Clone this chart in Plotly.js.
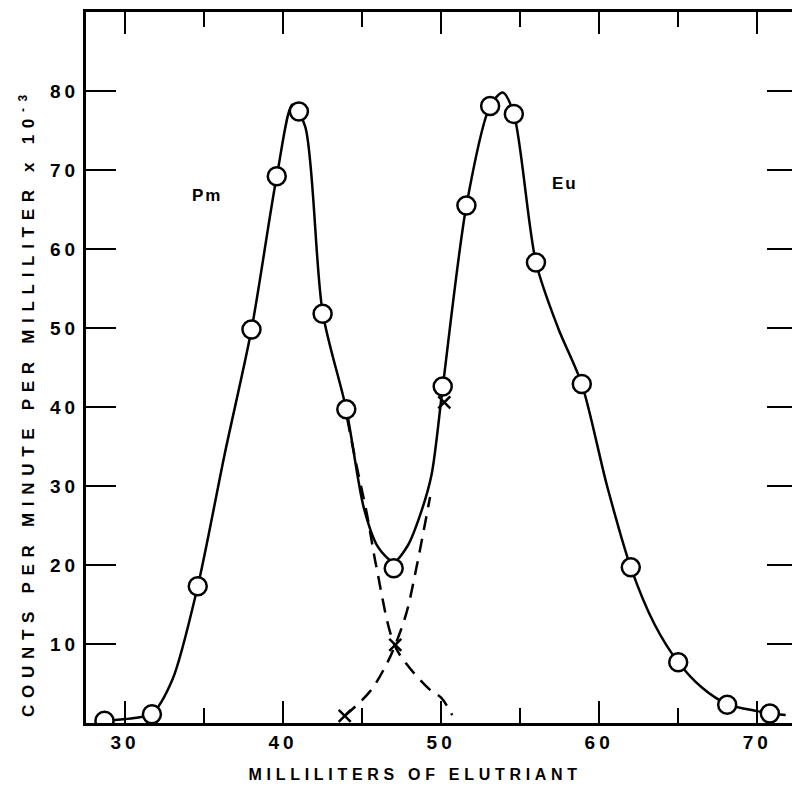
<!DOCTYPE html>
<html>
<head>
<meta charset="utf-8">
<script src="https://cdn.plot.ly/plotly-3.0.1.min.js"></script>
<style>
  body { margin: 0; padding: 0; background: #fff; }
  #chart { width: 792px; height: 787px; }
  .xtick text, .ytick text { letter-spacing: 4px; }
  .annotation-text { letter-spacing: 2px; }
</style>
</head>
<body>
<div id="chart"></div>
<script>
// Measured points (open circles)
const pointX = [28.7, 31.7, 34.6, 38.0, 39.6, 41.0, 42.5, 44.0, 47.0, 50.1, 51.6, 53.1, 54.6, 56.0, 58.9, 62.0, 65.0, 68.1, 70.8];
const pointY = [0.3, 1.1, 17.3, 49.8, 69.2, 77.4, 51.8, 39.7, 19.6, 42.6, 65.5, 78.1, 77.1, 58.3, 42.9, 19.7, 7.7, 2.3, 1.2];

// Smooth fitted curve (solid)
const curveX = [28.3, 30.0, 31.7, 33.0, 34.6, 36.3, 38.0, 39.6, 40.6, 41.4, 42.5, 44.0, 45.1, 46.0, 47.0, 47.9, 48.7, 49.4, 50.1, 51.6, 53.1, 53.9, 54.6, 56.0, 57.4, 58.9, 60.5, 62.0, 63.5, 65.0, 66.5, 68.1, 70.0, 70.8, 71.8];
const curveY = [0.2, 0.5, 1.2, 5.5, 17.3, 34.0, 49.8, 69.2, 78.3, 75.5, 52.0, 39.7, 27.3, 22.3, 20.4, 22.5, 26.5, 31.5, 42.5, 65.5, 78.1, 79.8, 77.1, 58.3, 50.0, 42.9, 30.0, 19.7, 12.5, 7.7, 4.5, 2.4, 1.5, 1.2, 1.0];

// Resolved components (dashed)
const pmTailX = [44.05, 44.67, 45.3, 45.9, 47.0, 47.8, 49.3, 50.0, 50.7];
const pmTailY = [38.6, 32.4, 26.5, 19.8, 10.1, 7.5, 4.2, 3.2, 1.0];
const euRiseX = [43.9, 45.5, 46.56, 47.1, 47.8, 48.45, 48.9, 49.3];
const euRiseY = [0.9, 4.0, 7.5, 9.9, 13.9, 19.8, 24.4, 28.6];

// Crosses (computed component values)
const crossX = [43.9, 47.1, 50.2];
const crossY = [0.9, 9.9, 40.6];

// Axis ticks
const xMajor = [30, 40, 50, 60, 70];
const xMinor = [35, 45, 55, 65];
const yTicks = [10, 20, 30, 40, 50, 60, 70, 80];

// Labels
const labelText = ["Pm", "Eu"];
const labelX = [35.2, 57.85];
const labelY = [66.8, 68.3];
const xTitle = 'MILLILITERS OF ELUTRIANT';
const yTitle = 'COUNTS PER MINUTE PER MILLILITER x 10<sup>-3</sup>';

const FONT = 'Arial, "Liberation Sans", sans-serif';

const traces = [
  { x: pmTailX, y: pmTailY, mode: 'lines', line: {color: '#000', width: 2.5, dash: '14px,9px', shape: 'spline'}, hoverinfo: 'skip' },
  { x: euRiseX, y: euRiseY, mode: 'lines', line: {color: '#000', width: 2.5, dash: '14px,9px', shape: 'spline'}, hoverinfo: 'skip' },
  { x: curveX, y: curveY, mode: 'lines', line: {color: '#000', width: 2.5, shape: 'spline', smoothing: 0.8}, hoverinfo: 'skip' },
  { x: pointX, y: pointY, mode: 'markers', marker: {symbol: 'circle', size: 18, color: '#fff', line: {color: '#000', width: 2.5}} },
  { x: crossX, y: crossY, yaxis: 'y2', mode: 'markers', marker: {symbol: 'x-thin-open', size: 12, color: '#000', line: {color: '#000', width: 2.5}} }
];

const annots = labelText.map((t, i) => ({
  x: labelX[i], y: labelY[i], xref: 'x', yref: 'y', text: t, showarrow: false,
  font: {size: 17, family: FONT, weight: 'bold', color: '#000'}
}));
annots.push({
  x: 0.466, y: -0.073, xref: 'paper', yref: 'paper', xanchor: 'center', yanchor: 'middle',
  text: xTitle, showarrow: false, name: 'xt',
  font: {size: 16, family: FONT, weight: 'bold', color: '#000'}
});
annots.push({
  x: -0.0836, y: 0.451, xref: 'paper', yref: 'paper', xanchor: 'center', yanchor: 'middle',
  text: yTitle, textangle: -90, showarrow: false, name: 'yt',
  font: {size: 17, family: FONT, weight: 'bold', color: '#000'}
});

const layout = {
  width: 792, height: 787,
  margin: {l: 86, r: 0, t: 12, b: 64},
  paper_bgcolor: '#fff', plot_bgcolor: '#fff',
  showlegend: false,
  font: {family: FONT, color: '#000'},
  xaxis: {
    range: [27.53, 72.2],
    tickvals: xMajor, ticktext: xMajor.map(String),
    ticks: 'inside', ticklen: 22, tickwidth: 2.5, tickcolor: '#000',
    minor: {tickvals: xMinor, ticks: 'inside', ticklen: 15, tickwidth: 2.5, tickcolor: '#000'},
    showline: true, linewidth: 3, linecolor: '#000', mirror: 'ticks',
    showgrid: false, zeroline: false,
    tickfont: {size: 19, family: FONT, weight: 'bold'}
  },
  yaxis: {
    range: [0, 90],
    tickvals: yTicks, ticktext: yTicks.map(String),
    ticks: 'inside', ticklen: 30, tickwidth: 2.5, tickcolor: '#000',
    showline: true, linewidth: 3, linecolor: '#000', mirror: false,
    showgrid: false, zeroline: false,
    tickfont: {size: 19, family: FONT, weight: 'bold'}
  },
  yaxis2: {
    overlaying: 'y', side: 'right', range: [0, 90],
    tickvals: yTicks, showticklabels: false,
    ticks: 'inside', ticklen: 25, tickwidth: 2.5, tickcolor: '#000',
    showline: false, showgrid: false, zeroline: false
  },
  annotations: annots
};

Plotly.newPlot('chart', traces, layout, {staticPlot: true, displayModeBar: false}).then(() => {
  const texts = document.querySelectorAll('.annotation-text');
  texts.forEach(el => {
    const s = el.textContent;
    if (s.indexOf('MILLILITERS OF') === 0) el.style.letterSpacing = '4.7px';
    if (s.indexOf('COUNTS') === 0) el.style.letterSpacing = '6.7px';
  });
});
</script>
</body>
</html>
